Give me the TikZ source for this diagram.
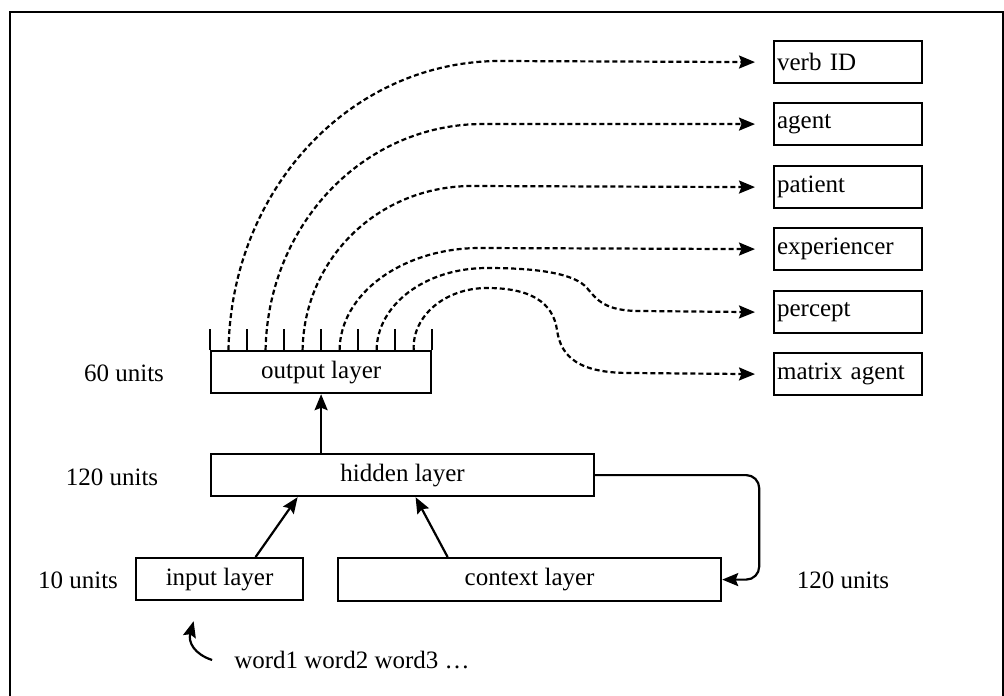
\documentclass[tikz,border=0pt]{standalone}
\usepackage{fontspec}
\setmainfont{Liberation Serif}
\usetikzlibrary{arrows.meta,calc}
\begin{document}
\begin{tikzpicture}[x=1pt,y=-1pt,
  every node/.style={font=\fontsize{25}{30}\selectfont},
  layer/.style={draw,line width=2.2pt,minimum height=42pt,inner sep=0pt,anchor=north west},
  role/.style={draw,line width=2.2pt,minimum width=148pt,minimum height=42pt,anchor=north west,text width=142pt,inner xsep=3pt,inner ysep=0pt,align=left},
  lbl/.style={inner sep=0pt},
  tip/.style={-{Stealth[length=16pt,width=13pt,inset=2.5pt]}},
  flow/.style={tip,line width=2.2pt,dash pattern=on 5pt off 3pt},
  conn/.style={tip,line width=2.2pt},
  tick/.style={line width=2.2pt}]
\useasboundingbox (0,0) rectangle (1004,696);
\draw[line width=2.8pt] (10,12) rectangle (1003,730);

% layers
\node[layer,minimum width=220pt] (output) at (210,350) {output layer};
\node[layer,minimum width=383pt] (hidden) at (210,453) {hidden layer};
\node[layer,minimum width=167pt] (input) at (135,557) {input layer};
\node[layer,minimum width=383pt,minimum height=43pt] (context) at (337,557) {context layer};

% unit labels
\node[lbl] (l60) at (124,373) {60 units};
\node[lbl] (l120a) at (112,477) {120 units};
\node[lbl] (l10) at (78,580) {10 units};
\node[lbl] (l120b) at (843,580) {120 units};
\node[lbl] (words) at (352,660) {word1 word2 word3 …};

% role boxes
\node[role] (verb) at (773,40) {verb ID};
\node[role] (agent) at (773,102) {agent};
\node[role] (patient) at (773,165) {patient};
\node[role] (exper) at (773,227) {experiencer};
\node[role] (percept) at (773,290) {percept};
\node[role] (magent) at (773,352) {matrix agent};

% ticks on output layer
\foreach \i in {0,...,6}
  \draw[tick] ($(output.north west)!\i/6!(output.north east)$) -- ++(0,-21);
\foreach \i/\n in {1/o1,3/o2,5/o3,7/o4,9/o5,11/o6}
  \coordinate (\n) at ($(output.north west)!\i/12!(output.north east)$);

% dashed output connectors
\draw[flow] (o1) .. controls (231,190) and (350,61) .. (500,61) -- ([xshift=-18pt]verb.west);
\draw[flow] (o2) .. controls (268,225) and (363,124) .. (483,124) -- ([xshift=-18pt]agent.west);
\draw[flow] (o3) .. controls (304,259) and (378,186) .. (472,186) -- ([xshift=-18pt]patient.west);
\draw[flow] (o4) .. controls (340,294) and (402,248) .. (480,248) -- ([xshift=-18pt]exper.west);
\draw[flow] (o5) .. controls (377,305) and (425,268) .. (487,268)
  .. controls (540,268) and (575,274) .. (587,288)
  .. controls (597,300) and (605,311) .. (640,311) -- ([xshift=-18pt]percept.west);
\draw[flow] (o6) .. controls (412,316) and (445,288) .. (487,288)
  .. controls (530,288) and (553,302) .. (557,330)
  .. controls (561,358) and (580,373) .. (630,373) -- ([xshift=-18pt]magent.west);

% solid connectors
\draw[conn] (hidden.north -| output.south) -- (output.south);
\draw[conn] ([xshift=36pt]input.north) -- ([xshift=-105pt]hidden.south);
\draw[conn] ([xshift=-82pt]context.north) -- ([xshift=13pt]hidden.south);
\draw[conn,rounded corners=13pt] (hidden.east) -- ++(164,0) |- (context.east);
\draw[conn] ([xshift=-22pt]words.west) .. controls (194,654) and (188,642) .. ([xshift=-26pt,yshift=-20pt]input.south);
\end{tikzpicture}
\end{document}
